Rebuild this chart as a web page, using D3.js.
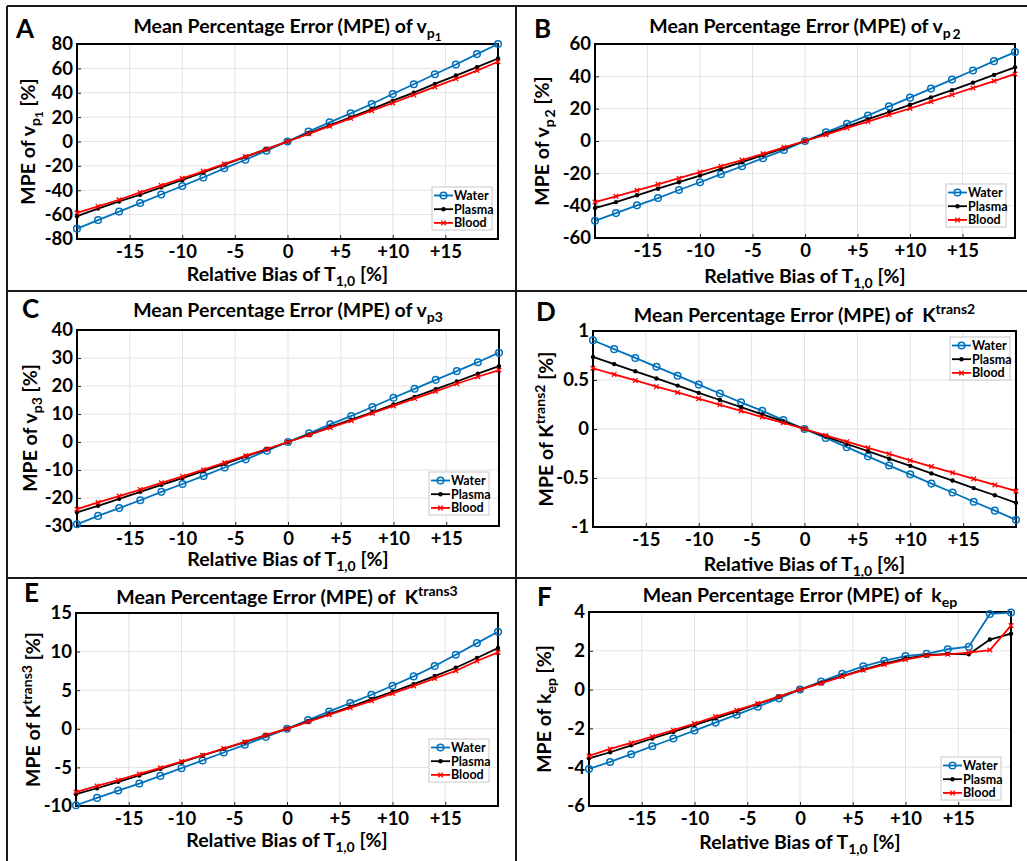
<!DOCTYPE html>
<html>
<head>
<meta charset="utf-8">
<script src="https://cdn.jsdelivr.net/npm/d3@7"></script>
<style>
  body { margin: 0; background: #fff; }
  text { font-family: Lato, "Open Sans", sans-serif; font-weight: bold; fill: #000; }
</style>
</head>
<body>
<div class="canvas"></div>
<script>
// size of the page
const w = 1027;
const h = 861;

// x values (relative bias of T1,0 in %) and axis ticks
const bias = [-20, -18, -16, -14, -12, -10, -8, -6, -4, -2, 0, 2, 4, 6, 8, 10, 12, 14, 16, 18, 20];
const xTicks = [-15, -10, -5, 0, 5, 10, 15];
const xTickLabels = ["-15", "-10", "-5", "0", "+5", "+10", "+15"];
const seriesNames = ["Water", "Plasma", "Blood"];

// A: vp1
const vp1Water = [-71.5, -64.5, -57.5, -50.5, -43.5, -36.5, -29.5, -22, -15, -7.5, 0, 8.2, 15.7, 23.1, 30.8, 39, 47, 55.2, 63.2, 71.7, 80];
const vp1Plasma = [-61.3, -55, -49.2, -43.7, -37.6, -31.6, -25.3, -19, -12.6, -6.3, 0, 6.6, 13.2, 19.8, 26.6, 33.5, 40.1, 47.3, 54.1, 61, 68.1];
const vp1Blood = [-58.5, -53.3, -47.8, -41.8, -36, -30.2, -24.5, -18.4, -12.4, -6.3, 0, 6.3, 12.6, 19, 25.3, 31.6, 38.2, 44.8, 51.4, 58.2, 65.4];
const vp1Ticks = [-80, -60, -40, -20, 0, 20, 40, 60, 80];

// B: vp2
const vp2Water = [-49.4, -44.6, -39.8, -35.3, -30.3, -25.5, -20.5, -15.6, -10.6, -5.6, 0, 5.4, 10.6, 15.8, 21.4, 26.8, 32.4, 38, 43.6, 49.4, 55];
const vp2Plasma = [-41.5, -37.8, -33.6, -29.5, -25.5, -21.4, -17.2, -13.1, -8.7, -4.4, 0, 4.6, 8.9, 13.5, 17.8, 22.4, 27, 31.5, 36.1, 40.9, 45.6];
const vp2Blood = [-37.8, -34.2, -30.5, -26.8, -23, -19.3, -15.6, -11.8, -7.9, -3.9, 0, 3.9, 8.1, 12, 16.2, 20.1, 24.3, 28.6, 32.8, 37.1, 41.5];
const vp2Ticks = [-60, -40, -20, 0, 20, 40, 60];

// C: vp3
const vp3Water = [-29.4, -26.4, -23.6, -20.8, -17.8, -15, -12.1, -9.1, -6.2, -3.1, 0, 3.1, 6.3, 9.3, 12.5, 15.8, 19, 22.2, 25.3, 28.5, 31.9];
const vp3Plasma = [-25.1, -22.8, -20.3, -17.8, -15.3, -12.9, -10.3, -7.8, -5.1, -2.6, 0, 2.6, 5.4, 8, 10.6, 13.4, 16.1, 18.9, 21.6, 24.4, 27.1];
const vp3Blood = [-24, -21.6, -19.3, -17, -14.6, -12.3, -9.9, -7.4, -4.9, -2.5, 0, 2.5, 5.1, 7.6, 10.3, 12.9, 15.5, 18.1, 20.8, 23.3, 25.7];
const vp3Ticks = [-30, -20, -10, 0, 10, 20, 30, 40];

// D: Ktrans2
const ktrans2Water = [0.906, 0.815, 0.725, 0.634, 0.544, 0.453, 0.362, 0.272, 0.185, 0.091, 0, -0.091, -0.185, -0.279, -0.373, -0.463, -0.557, -0.648, -0.742, -0.833, -0.927];
const ktrans2Plasma = [0.735, 0.662, 0.589, 0.516, 0.443, 0.369, 0.296, 0.223, 0.15, 0.077, 0, -0.077, -0.153, -0.226, -0.303, -0.376, -0.453, -0.526, -0.603, -0.676, -0.753];
const ktrans2Blood = [0.62, 0.557, 0.495, 0.432, 0.373, 0.31, 0.247, 0.185, 0.122, 0.063, 0, -0.066, -0.129, -0.192, -0.254, -0.321, -0.383, -0.446, -0.509, -0.571, -0.634];
const ktrans2Ticks = [-1, -0.5, 0, 0.5, 1];

// E: Ktrans3
const ktrans3Water = [-9.9, -8.95, -8, -7.1, -6.1, -5.1, -4.1, -3.07, -2.07, -1.04, 0, 1.12, 2.25, 3.33, 4.41, 5.58, 6.79, 8.13, 9.6, 11.1, 12.58];
const ktrans3Plasma = [-8.47, -7.7, -6.87, -6.05, -5.19, -4.32, -3.46, -2.6, -1.73, -0.82, 0, 0.95, 1.9, 2.85, 3.85, 4.8, 5.79, 6.83, 7.91, 9.17, 10.46];
const ktrans3Blood = [-8.2, -7.4, -6.66, -5.84, -5.06, -4.24, -3.42, -2.55, -1.69, -0.82, 0, 0.91, 1.82, 2.72, 3.63, 4.58, 5.53, 6.53, 7.52, 8.78, 9.9];
const ktrans3Ticks = [-10, -5, 0, 5, 10, 15];

// F: kep
const kepWater = [-4.09, -3.73, -3.33, -2.92, -2.52, -2.11, -1.7, -1.29, -0.88, -0.45, 0, 0.41, 0.82, 1.2, 1.49, 1.73, 1.84, 2.08, 2.21, 3.9, 3.97];
const kepPlasma = [-3.54, -3.23, -2.87, -2.52, -2.18, -1.82, -1.48, -1.12, -0.74, -0.36, 0, 0.36, 0.7, 1.03, 1.34, 1.6, 1.77, 1.84, 1.82, 2.58, 2.88];
const kepBlood = [-3.42, -3.06, -2.75, -2.42, -2.09, -1.75, -1.39, -1.06, -0.72, -0.36, 0, 0.33, 0.67, 1, 1.29, 1.55, 1.75, 1.82, 1.91, 2.04, 3.3];
const kepTicks = [-6, -4, -2, 0, 2, 4];

// styles
const colors = ["#0072BD", "#000000", "#ff0000"];
const gridColor = "#e3e3e3";
const titleSize = 19.5;
const xLabelSize = 19.5;
const yLabelSize = 19.5;
const tickSize = 18.5;
const legendSize = 12.5;

// layout of each panel (plot box, text anchors, legend corner)
// sym: [text, baseline offset, size factor] for the quantity name
const panels = [
  { letter: "A", lx: 16, ly: 38, box: [77, 498, 44, 239], yDomain: [-80, 80], yTicks: vp1Ticks,
    series: [vp1Water, vp1Plasma, vp1Blood], titleY: 33, xlabY: 281, ylabX: 35, legend: [432, 187],
    sym: [["v", 0, 1], ["p", 5, 0.72], ["1", 8, 0.6]] },
  { letter: "B", lx: 534, ly: 38, box: [595, 1015, 44, 238], yDomain: [-60, 60], yTicks: vp2Ticks,
    series: [vp2Water, vp2Plasma, vp2Blood], titleY: 33, xlabY: 283, ylabX: 549, legend: [946, 184],
    sym: [["v", 0, 1], ["p", 5, 0.72], ["\u2009" + "2", 6, 0.72]] },
  { letter: "C", lx: 22, ly: 318, box: [77, 499, 330, 526], yDomain: [-30, 40], yTicks: vp3Ticks,
    series: [vp3Water, vp3Plasma, vp3Blood], titleY: 317, xlabY: 566, ylabX: 37, legend: [429, 472],
    sym: [["v", 0, 1], ["p3", 5, 0.72]] },
  { letter: "D", lx: 536, ly: 321, box: [593, 1016, 331, 527], yDomain: [-1, 1], yTicks: ktrans2Ticks,
    series: [ktrans2Water, ktrans2Plasma, ktrans2Blood], titleY: 322, xlabY: 571, ylabX: 553, legend: [950, 337],
    sym: [["\u00a0K", 0, 1], ["trans2", -8, 0.72]] },
  { letter: "E", lx: 24, ly: 602, box: [76, 498, 613, 806], yDomain: [-10, 15], yTicks: ktrans3Ticks,
    series: [ktrans3Water, ktrans3Plasma, ktrans3Blood], titleY: 604, xlabY: 847, ylabX: 40, legend: [429, 739],
    sym: [["\u00a0K", 0, 1], ["trans3", -8, 0.72]] },
  { letter: "F", lx: 537, ly: 606, box: [589, 1011, 612, 806], yDomain: [-6, 4], yTicks: kepTicks,
    series: [kepWater, kepPlasma, kepBlood], titleY: 602, xlabY: 849, ylabX: 551, legend: [941, 757],
    sym: [["\u00a0k", 0, 1], ["ep", 5, 0.72]] }
];

const svg = d3.select(".canvas").append("svg").attr("width", w).attr("height", h);

// panel separators
const sep = svg.append("g").attr("stroke", "#1a1a1a").attr("stroke-width", 2);
sep.append("line").attr("x1", 7).attr("x2", 7).attr("y1", 6).attr("y2", h);
sep.append("line").attr("x1", 516).attr("x2", 516).attr("y1", 6).attr("y2", h);
sep.append("line").attr("x1", 7).attr("x2", w).attr("y1", 6).attr("y2", 6);
sep.append("line").attr("x1", 7).attr("x2", w).attr("y1", 291).attr("y2", 291);
sep.append("line").attr("x1", 7).attr("x2", w).attr("y1", 578).attr("y2", 578);

// writes rich text (sub/superscripts) into a text element
function richText(el, parts, size) {
  let prev = 0;
  parts.forEach(([t, off, f]) => {
    el.append("tspan")
      .attr("dy", off - prev)
      .attr("font-size", size * f)
      .text(t);
    prev = off;
  });
}

function marker(g, kind, color, x, y) {
  if (kind === 0) {
    g.append("circle").attr("cx", x).attr("cy", y).attr("r", 3.3)
      .attr("fill", "none").attr("stroke", color).attr("stroke-width", 1.5);
  } else if (kind === 1) {
    g.append("circle").attr("cx", x).attr("cy", y).attr("r", 2.2).attr("fill", color);
  } else {
    const s = 2.3;
    g.append("path").attr("d", `M${x - s},${y - s}L${x + s},${y + s}M${x - s},${y + s}L${x + s},${y - s}`)
      .attr("stroke", color).attr("stroke-width", 1.3);
  }
}

panels.forEach((p) => {
  const [x0, x1, y0, y1] = p.box;
  const x = d3.scaleLinear().domain([-20, 20]).range([x0, x1]);
  const y = d3.scaleLinear().domain(p.yDomain).range([y1, y0]);
  const g = svg.append("g");

  // grid
  g.append("g").selectAll("line").data(xTicks).enter().append("line")
    .attr("x1", (d) => x(d)).attr("x2", (d) => x(d)).attr("y1", y0).attr("y2", y1)
    .attr("stroke", gridColor).attr("stroke-width", 1);
  g.append("g").selectAll("line").data(p.yTicks).enter().append("line")
    .attr("x1", x0).attr("x2", x1).attr("y1", (d) => y(d)).attr("y2", (d) => y(d))
    .attr("stroke", gridColor).attr("stroke-width", 1);

  // axes
  const xAxis = d3.axisBottom(x).tickValues(xTicks).tickFormat((d, i) => xTickLabels[i])
    .tickSizeInner(-4).tickSizeOuter(0).tickPadding(6);
  const yAxis = d3.axisLeft(y).tickValues(p.yTicks).tickFormat((d) => String(d))
    .tickSizeInner(-4).tickSizeOuter(0).tickPadding(4);
  const gx = g.append("g").attr("transform", `translate(0,${y1})`).call(xAxis);
  const gy = g.append("g").attr("transform", `translate(${x0},0)`).call(yAxis);
  [gx, gy].forEach((a) => {
    a.select(".domain").remove();
    a.selectAll("line").attr("stroke", "#222");
    a.selectAll("text").attr("font-size", tickSize).attr("font-family", "Lato, sans-serif").attr("font-weight", "bold");
  });

  // frame
  g.append("rect").attr("x", x0).attr("y", y0).attr("width", x1 - x0).attr("height", y1 - y0)
    .attr("fill", "none").attr("stroke", "#000").attr("stroke-width", 2);

  // series
  const line = d3.line().x((d, i) => x(bias[i])).y((d) => y(d));
  p.series.forEach((vals, k) => {
    g.append("path").datum(vals).attr("d", line)
      .attr("fill", "none").attr("stroke", colors[k]).attr("stroke-width", 1.8);
    const mg = g.append("g");
    vals.forEach((v, i) => marker(mg, k, colors[k], x(bias[i]), y(v)));
  });

  // legend
  const [lx, ly] = p.legend;
  const lg = g.append("g").attr("transform", `translate(${lx},${ly})`);
  lg.append("rect").attr("width", 60).attr("height", 43).attr("fill", "#fff")
    .attr("stroke", "#c8c8c8").attr("stroke-width", 1);
  seriesNames.forEach((name, k) => {
    const cy = 8.5 + k * 13.7;
    lg.append("line").attr("x1", 2).attr("x2", 21).attr("y1", cy).attr("y2", cy)
      .attr("stroke", colors[k]).attr("stroke-width", 1.8);
    marker(lg, k, colors[k], 11.5, cy);
    lg.append("text").attr("x", 22).attr("y", cy + 4.5).attr("font-size", legendSize).text(name);
  });

  // panel letter
  svg.append("text").attr("x", p.lx).attr("y", p.ly).attr("font-size", 26).text(p.letter);

  // title
  const title = svg.append("text").attr("x", (x0 + x1) / 2).attr("y", p.titleY)
    .attr("text-anchor", "middle").attr("font-size", titleSize);
  richText(title, [["Mean Percentage Error (MPE) of ", 0, 1]].concat(p.sym), titleSize);

  // x label
  const xl = svg.append("text").attr("x", (x0 + x1) / 2).attr("y", p.xlabY)
    .attr("text-anchor", "middle").attr("font-size", xLabelSize);
  richText(xl, [["Relative Bias of T", 0, 1], ["1,0", 5, 0.72], [" [%]", 0, 1]], xLabelSize);

  // y label
  const yl = svg.append("text")
    .attr("transform", `translate(${p.ylabX},${(y0 + y1) / 2}) rotate(-90)`)
    .attr("text-anchor", "middle").attr("font-size", yLabelSize);
  const ySym = p.sym.map((s, i) => (i === 0 ? [s[0].replace("\u00a0", ""), s[1], s[2]] : s));
  richText(yl, [["MPE of ", 0, 1]].concat(ySym).concat([[" [%]", 0, 1]]), yLabelSize);
});
</script>
</body>
</html>
